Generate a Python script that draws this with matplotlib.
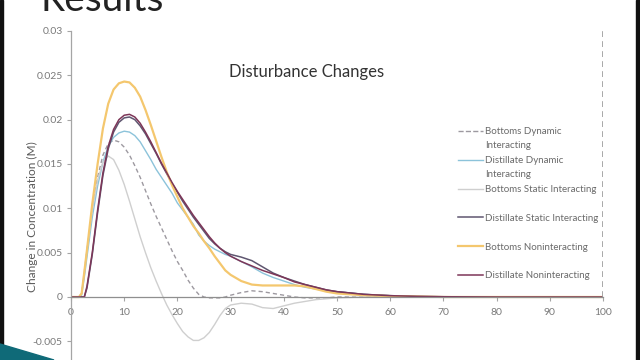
import matplotlib
matplotlib.use("Agg")
import matplotlib.pyplot as plt
from matplotlib.patches import Polygon, Rectangle
from matplotlib.lines import Line2D

# ---------------- data ----------------
t = [0, 1, 1.5, 2, 2.5, 3, 4, 5, 6, 7, 8, 9, 10, 11, 12, 13, 14, 15, 16, 17, 18, 19, 20,
     21, 22, 23, 24, 25, 26, 27, 28, 29, 30, 32, 34, 36, 38, 40, 42, 44, 46, 48, 50,
     55, 60, 65, 70, 80, 90, 100]

bottoms_dynamic = [0, 0, 0, 0.0004, 0.0028, 0.0052, 0.0098, 0.0135, 0.0160, 0.0173, 0.0177,
                   0.0175, 0.0169, 0.0160, 0.0148, 0.0135, 0.0120, 0.0105, 0.0091, 0.0078,
                   0.0065, 0.0052, 0.0040, 0.0030, 0.0019, 0.0010, 0.0003, 0.0000, -0.0001,
                   -0.0001, -0.0001, 0.0000, 0.0002, 0.0005, 0.0007, 0.0006, 0.0004, 0.0002,
                   0.0000, -0.0001, -0.0001, -0.0001, 0.0, 0.0, 0.0, 0.0, 0.0, 0.0, 0.0, 0.0]

distillate_dynamic = [0, 0, 0, 0.0002, 0.0022, 0.0045, 0.0090, 0.0125, 0.0152, 0.0170, 0.0180,
                      0.0185, 0.0187, 0.0186, 0.0182, 0.0175, 0.0165, 0.0155, 0.0144, 0.0135,
                      0.0126, 0.0117, 0.0106, 0.0098, 0.0090, 0.0082, 0.0070, 0.0063, 0.0058,
                      0.0054, 0.0051, 0.0048, 0.0046, 0.0040, 0.0034, 0.0027, 0.0022, 0.0018,
                      0.0014, 0.0011, 0.0009, 0.0007, 0.0006, 0.0003, 0.00015, 0.00005, 0.0,
                      0.0, 0.0, 0.0]

bottoms_static = [0, 0, 0, 0.0004, 0.0028, 0.0052, 0.0098, 0.0132, 0.0152, 0.0159, 0.0155,
                  0.0143, 0.0127, 0.0108, 0.0088, 0.0068, 0.0050, 0.0033, 0.0018, 0.0004,
                  -0.0009, -0.0020, -0.0030, -0.0039, -0.0045, -0.0049, -0.0049, -0.0046,
                  -0.0040, -0.0031, -0.0021, -0.0013, -0.0009, -0.0007, -0.0008, -0.0012,
                  -0.0013, -0.0010, -0.0007, -0.0005, -0.0003, -0.0002, -0.0001, 0.0, 0.0,
                  0.0, 0.0, 0.0, 0.0, 0.0]

distillate_static = [0, 0, 0, 0, 0, 0.0010, 0.0048, 0.0095, 0.0137, 0.0167, 0.0186, 0.0197,
                     0.0202, 0.0203, 0.0200, 0.0193, 0.0184, 0.0173, 0.0162, 0.0150, 0.0139,
                     0.0128, 0.0118, 0.0108, 0.0099, 0.0090, 0.0082, 0.0074, 0.0066, 0.0060,
                     0.0055, 0.0051, 0.0048, 0.0045, 0.0041, 0.0034, 0.0027, 0.0022, 0.0018,
                     0.0014, 0.0011, 0.0008, 0.0006, 0.0003, 0.00015, 0.00007, 0.00003, 0.0,
                     0.0, 0.0]

bottoms_nonint = [0, 0, 0, 0.0004, 0.0028, 0.0053, 0.0105, 0.0150, 0.0190, 0.0218, 0.0234,
                  0.0241, 0.0243, 0.0242, 0.0236, 0.0226, 0.0211, 0.0194, 0.0176, 0.0158,
                  0.0141, 0.0126, 0.0113, 0.0100, 0.0090, 0.0080, 0.0072, 0.0063, 0.0055,
                  0.0046, 0.0038, 0.0030, 0.0025, 0.0018, 0.0014, 0.0013, 0.0013, 0.0013,
                  0.0013, 0.0012, 0.0009, 0.0006, 0.0004, 0.0002, 0.0001, 0.00005, 0.0,
                  0.0, 0.0, 0.0]

distillate_nonint = [0, 0, 0, 0, 0, 0.0012, 0.0050, 0.0098, 0.0140, 0.0170, 0.0189, 0.0200,
                     0.0205, 0.0206, 0.0203, 0.0196, 0.0186, 0.0175, 0.0163, 0.0151, 0.0140,
                     0.0129, 0.0119, 0.0110, 0.0101, 0.0092, 0.0084, 0.0076, 0.0068, 0.0061,
                     0.0055, 0.0050, 0.0046, 0.0040, 0.0035, 0.0030, 0.0026, 0.0022, 0.0017,
                     0.0014, 0.0011, 0.0008, 0.0006, 0.0003, 0.00015, 0.00007, 0.00003, 0.0,
                     0.0, 0.0]

labels = ["Bottoms Dynamic\nInteracting", "Distillate Dynamic\nInteracting",
          "Bottoms Static Interacting", "Distillate Static Interacting",
          "Bottoms Noninteracting", "Distillate Noninteracting"]

x_ticks = [0, 10, 20, 30, 40, 50, 60, 70, 80, 90, 100]
y_ticks = [-0.005, 0, 0.005, 0.01, 0.015, 0.02, 0.025, 0.03]
y_ticklabels = ["-0.005", "0", "0.005", "0.01", "0.015", "0.02", "0.025", "0.03"]

title = "Disturbance Changes"
slide_title = "Results"
y_label = "Change in Concentration (M)"

# ---------------- figure ----------------
W, H = 640, 360
fig = plt.figure(figsize=(6.4, 3.6), dpi=100)
fig.patch.set_facecolor("white")
plt.rcParams['font.family'] = ['Lato', 'DejaVu Sans']

ax = fig.add_axes([71 / W, 0, (603 - 71) / W, (360 - 31) / H])
ax.set_facecolor("none")

series = [bottoms_dynamic, distillate_dynamic, bottoms_static,
          distillate_static, bottoms_nonint, distillate_nonint]
colors = ["#9d99a0", "#8cc3da", "#cfcfcf", "#5f5670", "#f4c76e", "#7d3658"]
styles = [(0, (3, 2.2)), "-", "-", "-", "-", "-"]
widths = [1.0, 1.0, 1.0, 1.1, 1.6, 1.1]

handles = []
for s, c, ls, lw, lab in zip(series, colors, styles, widths, labels):
    h, = ax.plot(t, s, color=c, linestyle=ls, linewidth=lw, label=lab)
    handles.append(h)

ax.vlines(100, 0, 0.0303, colors="#9a9a9a", linestyles=(0, (3.5, 2.5)), linewidth=1.2)

ax.set_xlim(0, 100)
ax.set_ylim(-(360 - 297) / 8866, 0.03)

for sp in ["top", "right"]:
    ax.spines[sp].set_visible(False)
ax.spines["bottom"].set_position(("data", 0))
ax.spines["left"].set_color("#a5a5a5")
ax.spines["bottom"].set_color("#8f8f8f")
ax.spines["left"].set_linewidth(0.9)
ax.spines["bottom"].set_linewidth(0.9)

ax.set_xticks(x_ticks)
ax.set_xticklabels([str(v) for v in x_ticks])
ax.set_yticks(y_ticks)
ax.set_yticklabels(y_ticklabels)
ax.tick_params(axis="both", colors="#a5a5a5", labelcolor="#7a7a7a", labelsize=7.5,
               length=3, width=0.8, direction="out")
ax.tick_params(axis="y", pad=3)
ax.tick_params(axis="x", pad=5)

fig.text(32 / W, 1 - 217 / H, y_label, rotation=90, ha="center", va="center",
         fontsize=8.6, color="#5a5a5a")
fig.text(307 / W, 1 - 76.5 / H, title, ha="center", va="baseline",
         fontsize=12, color="#333333")
fig.text(41 / W, 1 - 11 / H, slide_title, ha="left", va="baseline",
         fontsize=28, color="#222222")

# legend (entries evenly spaced, handle aligned with the first text line)
leg_top, leg_step, line_step = 131.0, 28.8, 14.0
for i, h in enumerate(handles):
    y_px = leg_top + i * leg_step
    yy = 1 - y_px / H
    fig.add_artist(Line2D([458 / W, 483 / W], [yy, yy], transform=fig.transFigure,
                          color=h.get_color(), linestyle=h.get_linestyle(),
                          linewidth=h.get_linewidth()))
    for j, part in enumerate(h.get_label().split("\n")):
        fig.text(485 / W, 1 - (y_px + j * line_step + 3.3) / H, part, ha="left",
                 va="baseline", fontsize=7.0, color="#6a6a6a")

# slide decorations
fig.patches.append(Rectangle((0, 0), 2.5 / W, 1, transform=fig.transFigure,
                             color="#111111", zorder=5))
fig.patches.append(Rectangle((636 / W, 0), 4 / W, 1, transform=fig.transFigure,
                             color="#111111", zorder=5))
fig.patches.append(Polygon([(0, 1 - 344 / H), (54 / W, 0), (0, 0)], closed=True,
                           transform=fig.transFigure, color="#0f6a78", zorder=6))

fig.savefig("out.png", dpi=100, facecolor="white")
